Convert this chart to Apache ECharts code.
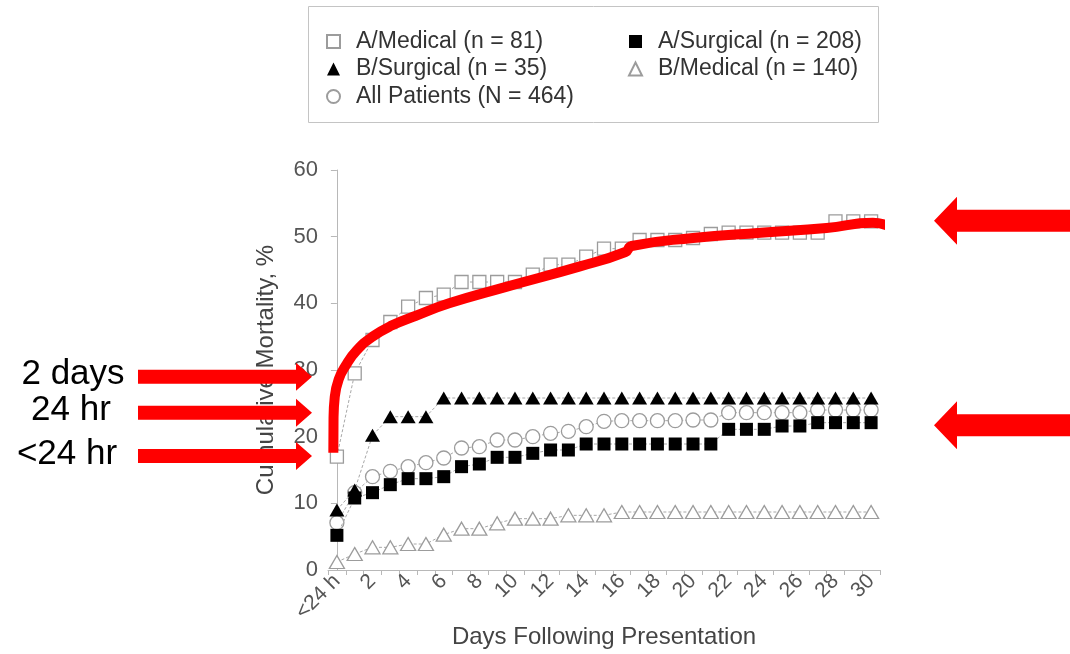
<!DOCTYPE html>
<html>
<head>
<meta charset="utf-8">
<script src="https://cdn.jsdelivr.net/npm/echarts@6/dist/echarts.min.js"></script>
<style>
  html, body { margin: 0; padding: 0; background: #fff; }
  #chart { width: 1070px; height: 654px; }
</style>
</head>
<body>
<div id="chart"></div>
<script>
// Day categories (index 1 = 24 h, label hidden by the interval)
const days = ['<24 h', '24 h', '2', '3', '4', '5', '6', '7', '8', '9', '10',
  '11', '12', '13', '14', '15', '16', '17', '18', '19', '20',
  '21', '22', '23', '24', '25', '26', '27', '28', '29', '30'];

// Cumulative mortality, % per day
const aMedical = [17.0, 29.5, 34.5, 37.2, 39.5, 40.8, 41.3, 43.2, 43.2, 43.2, 43.2,
  44.3, 45.8, 45.8, 47.0, 48.2, 48.2, 49.5, 49.5, 49.5, 49.8,
  50.4, 50.6, 50.6, 50.6, 50.6, 50.6, 50.6, 52.3, 52.3, 52.3];
const aSurgical = [5.2, 10.8, 11.6, 12.8, 13.7, 13.7, 14.0, 15.5, 15.9, 16.9, 16.9,
  17.5, 18.0, 18.0, 18.9, 18.9, 18.9, 18.9, 18.9, 18.9, 18.9,
  18.9, 21.1, 21.1, 21.1, 21.6, 21.6, 22.1, 22.1, 22.1, 22.1];
const bSurgical = [9.0, 12.0, 20.2, 23.0, 23.0, 23.0, 25.8, 25.8, 25.8, 25.8, 25.8,
  25.8, 25.8, 25.8, 25.8, 25.8, 25.8, 25.8, 25.8, 25.8, 25.8,
  25.8, 25.8, 25.8, 25.8, 25.8, 25.8, 25.8, 25.8, 25.8, 25.8];
const bMedical = [1.2, 2.4, 3.4, 3.4, 3.9, 3.9, 5.3, 6.2, 6.2, 7.0, 7.7,
  7.7, 7.7, 8.2, 8.2, 8.2, 8.7, 8.7, 8.7, 8.7, 8.7,
  8.7, 8.7, 8.7, 8.7, 8.7, 8.7, 8.7, 8.7, 8.7, 8.7];
const allPatients = [7.1, 11.6, 14.0, 14.8, 15.5, 16.1, 16.8, 18.3, 18.5, 19.5, 19.5,
  20.0, 20.5, 20.8, 21.5, 22.3, 22.4, 22.4, 22.4, 22.4, 22.5,
  22.5, 23.6, 23.6, 23.6, 23.6, 23.6, 24.0, 24.0, 24.0, 24.0];

// Hand-drawn red trend over the A/Medical curve (day position, %)
const trendDay = [-0.2, -0.19, -0.12, 0.1, 0.5, 1.1, 2.0, 3.1, 4.4, 6.3, 9.4,
  13.6, 16.2, 16.55, 20.0, 23.8, 27.5, 30.1, 31.05];
const trendPct = [17.6, 22.5, 26.0, 28.6, 30.7, 32.9, 35.0, 36.7, 38.1, 40.0, 42.4,
  45.5, 47.7, 48.6, 49.8, 50.6, 51.3, 52.1, 51.5];

// Callout arrows: left labels point at these mortality levels, right arrows at these
const calloutLabels = ['2 days', '24 hr', '<24 hr'];
const calloutPct = [29.0, 23.6, 17.1];
const rightArrowPct = [52.4, 21.7];

// Legend names
const names = {
  aMed: 'A/Medical (n = 81)',
  aSurg: 'A/Surgical (n = 208)',
  bSurg: 'B/Surgical (n = 35)',
  bMed: 'B/Medical (n = 140)',
  all: 'All Patients (N = 464)'
};

const FONT = '"Liberation Sans", Arial, Helvetica, sans-serif';
const dashed = { color: '#a8a8a8', width: 1, type: [3, 2] };
const openItem = { color: '#ffffff', borderColor: '#9c9c9c', borderWidth: 1.3 };
const solidItem = { color: '#000000', borderColor: '#000000', borderWidth: 0 };

function markerSeries(name, data, symbol, size, itemStyle, z) {
  return {
    name: name, type: 'line', data: data,
    symbol: symbol, symbolSize: size, showAllSymbol: true,
    itemStyle: itemStyle, lineStyle: dashed,
    emphasis: { disabled: true }, z: z, animation: false
  };
}

function legendColumn(left, items) {
  return {
    orient: 'vertical', left: left, top: 25, itemWidth: 13, itemHeight: 13, itemGap: 4.5,
    selectedMode: false,
    textStyle: { fontSize: 23, color: '#333', fontFamily: FONT, padding: [0, 0, 0, 11] },
    data: items
  };
}

const chart = echarts.init(document.getElementById('chart'), null, { renderer: 'canvas' });

chart.setOption({
  backgroundColor: '#ffffff',
  animation: false,
  textStyle: { fontFamily: FONT },
  grid: { left: 328, right: 190, top: 170, bottom: 84, outerBoundsMode: 'none' },
  legend: [
    legendColumn(321, [
      { name: names.aMed, icon: 'rect' },
      { name: names.bSurg, icon: 'triangle' },
      { name: names.all, icon: 'circle' }
    ]),
    legendColumn(623, [
      { name: names.aSurg, icon: 'rect' },
      { name: names.bMed, icon: 'triangle' }
    ])
  ],
  xAxis: [
    {
      type: 'category', data: days, boundaryGap: true,
      name: 'Days Following Presentation', nameLocation: 'middle', nameGap: 55,
      nameMoveOverlap: false,
      nameTextStyle: { fontSize: 24, color: '#444', fontFamily: FONT },
      axisLine: { show: true, lineStyle: { color: '#b8b8b8', width: 1 } },
      axisTick: { show: true, interval: 0, length: 5, lineStyle: { color: '#b8b8b8' } },
      axisLabel: { interval: 1, rotate: 45, fontSize: 21, color: '#555', margin: 8, fontFamily: FONT },
      splitLine: { show: false }
    },
    { type: 'value', min: -0.5, max: 30.5, show: false }
  ],
  yAxis: {
    type: 'value', min: 0, max: 60, interval: 10,
    name: 'Cumulative Mortality, %', nameLocation: 'middle', nameGap: 50,
    nameMoveOverlap: false,
    nameTextStyle: { fontSize: 24, color: '#444', fontFamily: FONT },
    axisLine: { show: true, lineStyle: { color: '#b8b8b8', width: 1 } },
    axisTick: { show: true, length: 6, lineStyle: { color: '#b8b8b8' } },
    axisLabel: { fontSize: 22, color: '#555', margin: 10, fontFamily: FONT },
    splitLine: { show: false }
  },
  series: [
    markerSeries(names.bMed, bMedical, 'triangle', [15, 13], openItem, 2),
    markerSeries(names.all, allPatients, 'circle', 14, openItem, 3),
    markerSeries(names.aMed, aMedical, 'rect', 13, openItem, 4),
    markerSeries(names.aSurg, aSurgical, 'rect', 13, solidItem, 5),
    markerSeries(names.bSurg, bSurgical, 'triangle', [15, 13], solidItem, 6),
    {
      name: 'trend', type: 'line', xAxisIndex: 1, yAxisIndex: 0,
      data: trendDay.map((d, i) => [d, trendPct[i]]),
      symbol: 'none', smooth: 0.5, clip: false,
      lineStyle: { color: '#ff0000', width: 10, cap: 'butt', join: 'round' },
      emphasis: { disabled: true }, z: 10, animation: false, silent: true
    }
  ]
});

// Arrow polygon: tip at (tipX, y); points toward the tip side
function arrow(tailX, tipX, y, bodyH, headL, headH) {
  const dir = tipX > tailX ? 1 : -1;
  const hx = tipX - dir * headL;
  return {
    type: 'polygon', silent: true, z: 100,
    shape: { points: [
      [tailX, y - bodyH / 2], [hx, y - bodyH / 2], [hx, y - headH / 2], [tipX, y],
      [hx, y + headH / 2], [hx, y + bodyH / 2], [tailX, y + bodyH / 2]
    ] },
    style: { fill: '#ff0000' }
  };
}

const yPix = v => chart.convertToPixel({ yAxisIndex: 0 }, v);
const gridLeft = 328, gridRight = 1070 - 190;
const graphics = [
  {
    type: 'rect', silent: true, z: 0,
    shape: { x: 308.5, y: 6.5, width: 570, height: 116 },
    style: { fill: 'none', stroke: '#c4c4c4', lineWidth: 1 }
  }
];
const labelCenterX = [73, 71, 67];
calloutPct.forEach((p, i) => {
  const y = yPix(p);
  graphics.push(arrow(138, gridLeft - 16, y, 14, 16, 28));
  graphics.push({
    type: 'text', silent: true, z: 100,
    x: labelCenterX[i], y: y - 2,
    style: {
      text: calloutLabels[i], font: '35px ' + FONT, fill: '#000',
      align: 'center', verticalAlign: 'middle',
      textAlign: 'center', textVerticalAlign: 'middle'
    }
  });
});
rightArrowPct.forEach(p => {
  graphics.push(arrow(1075, gridRight + 54, yPix(p), 22, 23, 48));
});
chart.setOption({ graphic: graphics });
</script>
</body>
</html>
